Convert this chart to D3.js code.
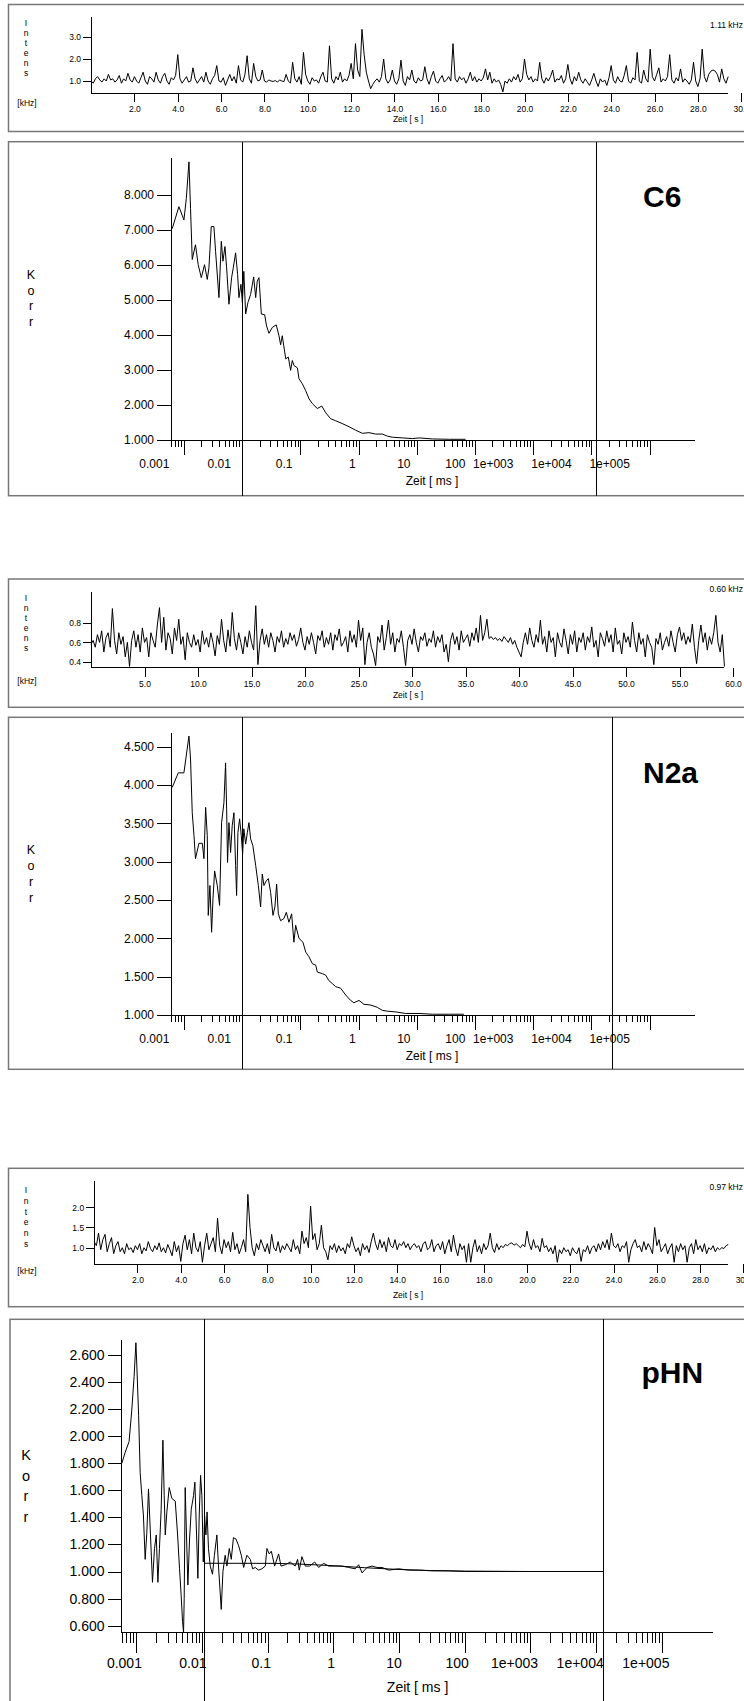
<!DOCTYPE html>
<html lang="de">
<head>
<meta charset="UTF-8">
<title>FCS Intensitaet und Korrelation</title>
<script src="https://d3js.org/d3.v7.min.js"></script>
<style>
body { margin: 0; background: #fff; }
svg text { font-family: Arial, "Liberation Sans", sans-serif; fill: #000; }
</style>
</head>
<body>
<div id="chart"></div>
<script>
// ---------- Intensity traces (kHz), equally sampled ----------
const intensC6Dt = 0.1;
const intensC6 = [
  1.0, 0.9, 1.1, 1.2, 1.05, 0.95, 1.1, 1.0, 1.3, 1.05,
  1.1, 0.95, 1.05, 1.25, 0.9, 1.1, 1.0, 1.35, 1.05, 0.95,
  1.2, 1.0, 0.9, 1.15, 1.4, 1.0, 0.85, 1.2, 1.1, 0.95,
  1.4, 1.05, 0.9, 1.2, 1.35, 1.0, 0.85, 1.15, 1.05, 1.25,
  2.2, 1.1, 0.9, 1.05, 1.2, 0.95, 1.0, 1.6, 1.1, 0.9,
  1.05, 1.2, 0.95, 1.4, 1.0, 0.85, 1.1, 1.25, 1.7, 1.0,
  0.95, 1.15, 0.8, 1.05, 1.3, 1.0, 1.2, 0.9, 1.7, 1.05,
  0.95, 1.3, 2.15, 1.1, 0.9, 1.8, 1.2, 1.0, 1.05, 1.5,
  1.0, 0.95, 1.05, 1.0, 0.98, 1.02, 0.95, 1.05, 1.0, 0.97,
  1.3, 1.0, 0.9, 1.85, 1.1, 0.95, 1.2, 0.85, 2.3, 1.3,
  1.0, 0.85, 1.15, 1.0, 1.05, 0.9, 1.2, 1.4, 1.0, 0.95,
  2.6, 1.1, 0.9, 1.2, 1.05, 1.4, 0.95, 1.1, 1.0, 1.25,
  1.8, 1.1, 2.7, 1.5, 1.2, 3.35, 2.2, 1.4, 1.0, 0.65,
  0.85, 1.0, 1.1, 0.95, 1.2, 2.0, 1.1, 0.9, 1.05, 1.5,
  1.0, 0.85, 1.1, 1.95, 1.0, 0.8, 1.2, 1.05, 1.5, 1.0,
  0.9, 1.15, 1.0, 1.05, 1.65, 1.1, 0.85, 1.2, 1.45, 1.0,
  0.9, 1.1, 1.25, 0.95, 1.05, 1.2, 1.0, 2.7, 1.1, 0.95,
  1.2, 1.05, 1.15, 0.9, 1.1, 1.4, 1.0, 1.2, 0.95, 1.1,
  1.0, 1.15, 1.55, 1.05, 1.4, 0.9, 1.1, 0.95, 1.05, 0.85,
  0.5, 1.0, 0.9, 1.1, 0.95, 1.2, 1.05, 1.3, 0.95, 1.1,
  2.0, 1.3, 1.05, 1.2, 0.95, 1.1, 1.0, 1.85, 1.1, 0.9,
  1.15, 1.0, 1.2, 1.5, 0.95, 1.1, 1.05, 1.25, 0.9, 1.1,
  1.75, 1.1, 0.85, 1.2, 1.0, 1.4, 1.05, 0.9, 1.1, 0.95,
  0.8, 1.05, 1.35, 1.0, 0.75, 1.1, 0.95, 1.05, 0.8, 1.15,
  1.7, 1.05, 0.9, 1.2, 1.0, 0.95, 1.25, 1.7, 1.0, 0.9,
  1.15, 1.05, 2.3, 1.0, 0.9, 1.5, 1.1, 0.95, 2.45, 1.2,
  1.0, 1.3, 1.6, 0.95, 1.1, 1.0, 1.2, 2.2, 1.05, 0.9,
  1.15, 1.0, 1.55, 0.95, 1.1, 1.0, 0.85, 1.05, 1.85, 1.0,
  0.75, 1.1, 2.45, 1.2, 0.95, 1.3, 1.45, 1.5, 1.45, 1.3,
  0.95, 1.55, 1.1, 0.9, 1.2
];

const intensN2aDt = 0.2;
const intensN2a = [
  0.58, 0.62, 0.55, 0.68, 0.6, 0.72, 0.5, 0.65, 0.7, 0.55,
  0.95, 0.62, 0.48, 0.7, 0.58, 0.66, 0.45, 0.6, 0.35, 0.62,
  0.72, 0.55, 0.68, 0.5, 0.75, 0.6, 0.65, 0.45, 0.7, 0.62,
  0.55, 0.78, 0.96, 0.6, 0.86, 0.52, 0.7, 0.64, 0.48, 0.75,
  0.62, 0.84, 0.58, 0.66, 0.42, 0.7, 0.6, 0.55, 0.68, 0.57,
  0.63, 0.5, 0.72, 0.58, 0.65, 0.55, 0.7, 0.6, 0.46, 0.67,
  0.58, 0.84, 0.62, 0.5, 0.73, 0.56, 0.91, 0.64, 0.52, 0.7,
  0.6, 0.48, 0.66, 0.55, 0.72, 0.6, 0.52, 0.98, 0.37, 0.62,
  0.74, 0.58, 0.68, 0.55, 0.7, 0.62, 0.5, 0.66, 0.6, 0.72,
  0.55, 0.64, 0.58, 0.7, 0.62, 0.68, 0.56, 0.63, 0.75, 0.6,
  0.52, 0.66, 0.58, 0.7, 0.6, 0.48, 0.67, 0.62, 0.72, 0.55,
  0.65, 0.58, 0.7, 0.52, 0.68, 0.62, 0.74, 0.56, 0.6, 0.66,
  0.5, 0.72, 0.6, 0.68, 0.55, 0.83, 0.62, 0.75, 0.37, 0.6,
  0.7, 0.55, 0.48, 0.36, 0.66, 0.6, 0.78, 0.52, 0.65, 0.83,
  0.58, 0.7, 0.5, 0.64, 0.6, 0.72, 0.55, 0.36, 0.62, 0.68,
  0.58, 0.74, 0.6, 0.5, 0.66, 0.62, 0.7, 0.56, 0.64, 0.6,
  0.72, 0.55, 0.66, 0.6, 0.68, 0.5, 0.58, 0.4, 0.62, 0.7,
  0.58, 0.66, 0.52, 0.72, 0.6, 0.64, 0.68, 0.56, 0.7, 0.62,
  0.75, 0.6, 0.88, 0.62, 0.7, 0.84, 0.64, 0.66, 0.63, 0.65,
  0.62, 0.64, 0.61, 0.66, 0.63, 0.6, 0.65, 0.58, 0.62, 0.55,
  0.5, 0.45, 0.6, 0.7, 0.58, 0.75, 0.62, 0.55, 0.68, 0.6,
  0.83, 0.58, 0.66, 0.5, 0.72, 0.6, 0.65, 0.45, 0.7, 0.6,
  0.55, 0.74, 0.62, 0.48, 0.68, 0.58, 0.72, 0.5, 0.65, 0.6,
  0.7, 0.52, 0.66, 0.6, 0.76, 0.55, 0.62, 0.45, 0.7, 0.64,
  0.56, 0.72, 0.6, 0.68, 0.5, 0.75, 0.58, 0.62, 0.48, 0.7,
  0.6, 0.66, 0.55, 0.81, 0.62, 0.5, 0.7, 0.58, 0.64, 0.45,
  0.68, 0.6, 0.55, 0.37, 0.64, 0.58, 0.7, 0.52, 0.6, 0.66,
  0.56, 0.72, 0.6, 0.5, 0.68, 0.76, 0.62, 0.7, 0.58, 0.66,
  0.6, 0.79, 0.55, 0.38, 0.62, 0.78, 0.6, 0.7, 0.52, 0.66,
  0.58, 0.7, 0.88, 0.6, 0.5, 0.68, 0.35
];

const intensPhnDt = 0.1;
const intensPhn = [
  1.15, 1.05, 1.36, 0.95, 1.2, 1.33, 0.9, 1.1, 1.25, 0.85,
  1.05, 1.15, 0.9, 1.0, 0.85, 1.1, 0.95, 1.0, 0.88, 1.05,
  0.95, 1.1, 0.85, 1.0, 0.92, 1.15, 0.98, 0.9, 1.05, 0.95,
  1.12, 0.9, 1.0, 0.87, 1.08, 0.95, 0.8, 1.15, 0.9, 1.05,
  0.66, 1.1, 1.31, 0.95, 1.2, 0.85, 1.36, 1.0, 0.9, 1.15,
  0.64, 1.05, 1.36, 0.95, 1.1, 1.25, 0.9, 1.73, 1.05, 0.85,
  1.2, 1.0, 1.15, 0.9, 1.38, 0.95, 1.1, 0.85, 1.0, 1.2,
  0.9, 2.32, 1.5, 1.0, 0.8, 1.1, 0.95, 1.2, 1.05, 0.9,
  1.1, 0.85, 1.33, 1.0, 0.92, 1.15, 0.88, 1.05, 0.95, 1.1,
  1.0, 0.9, 1.2, 0.95, 1.05, 0.85, 1.41, 1.1, 1.25, 1.0,
  2.03, 1.2, 1.35, 0.95, 1.1, 1.56, 1.0, 0.9, 0.7, 1.05,
  0.95, 1.1, 0.88, 1.05, 0.92, 1.0, 0.85, 1.1, 1.0, 1.27,
  1.05, 0.9, 1.0, 0.8, 1.1, 0.95, 1.05, 0.88, 1.15, 1.36,
  1.1, 0.95, 1.2, 1.0, 1.15, 0.9, 1.25, 1.05, 1.0, 1.2,
  0.95, 1.1, 1.05, 1.15, 1.0, 1.1, 0.95, 1.05, 1.1, 1.0,
  1.05, 0.9, 1.1, 1.15, 0.95, 1.0, 1.2, 0.9, 1.05, 1.1,
  0.95, 1.15, 0.85, 1.05, 1.2, 0.9, 1.31, 1.0, 0.8, 1.1,
  0.95, 1.05, 0.64, 1.1, 0.64, 1.0, 1.2, 0.9, 1.05, 0.85,
  1.1, 0.95, 1.05, 1.36, 1.0, 0.88, 1.1, 0.95, 1.05, 1.0,
  1.08, 1.05, 1.1, 1.12, 1.06, 1.1, 1.05, 1.0, 1.08, 1.02,
  1.41, 1.1, 0.95, 1.2, 1.0, 1.05, 0.9, 1.23, 1.0, 1.05,
  0.9, 1.0, 0.85, 1.05, 0.64, 0.95, 0.85, 1.0, 0.9, 0.95,
  0.8, 1.0, 0.9, 0.85, 1.0, 0.66, 0.95, 0.9, 1.05, 0.85,
  1.0, 1.05, 0.9, 1.1, 0.95, 1.15, 1.0, 1.2, 0.95, 1.36,
  1.05, 1.0, 1.1, 0.9, 1.05, 1.0, 1.15, 0.64, 0.95, 1.1,
  1.2, 1.0, 1.05, 0.9, 1.15, 0.95, 1.1, 1.0, 0.85, 1.5,
  1.05, 1.2, 0.9, 1.0, 1.1, 0.85, 1.0, 1.1, 0.64, 1.05,
  0.9, 1.1, 0.95, 1.05, 0.64, 1.0, 1.1, 0.85, 1.2, 0.95,
  1.05, 0.9, 1.1, 0.85, 1.0, 0.95, 1.05, 0.9, 1.0, 0.95,
  1.0, 0.98, 1.05, 1.08
];

// x ticks [s], y ticks [kHz], mean count rates
const intensTicks30 = [2, 4, 6, 8, 10, 12, 14, 16, 18, 20, 22, 24, 26, 28, 30];
const intensTicks60 = [5, 10, 15, 20, 25, 30, 35, 40, 45, 50, 55, 60];
const intensYTicksC6 = [1, 2, 3];
const intensYTicksN2a = [0.4, 0.6, 0.8];
const intensYTicksPhn = [1, 1.5, 2];
const meanRates = ["1.11 kHz", "0.60 kHz", "0.97 kHz"];

// ---------- Autocorrelation curves: [tau in ms, G] ----------
const corrC6 = [
  [0.00063, 7.04], [0.00082, 7.67], [0.0010, 7.29], [0.0011, 7.9], [0.00122, 8.95],
  [0.0013, 7.62], [0.00139, 6.16], [0.00158, 6.58], [0.00176, 6.01], [0.00199, 5.64],
  [0.00226, 6.01], [0.00252, 5.59], [0.00269, 5.92], [0.00295, 7.10], [0.00328, 7.10],
  [0.0035, 6.39], [0.0040, 5.07], [0.00439, 6.68], [0.00468, 6.11], [0.00507, 6.53],
  [0.00542, 5.92], [0.00594, 4.88], [0.0066, 5.64], [0.00705, 5.92], [0.00773, 6.35],
  [0.00837, 5.73], [0.00883, 5.07], [0.00955, 5.45], [0.0101, 4.93], [0.0107, 5.82],
  [0.0115, 4.60], [0.0126, 4.93], [0.0140, 5.16], [0.0158, 5.66], [0.0171, 5.07],
  [0.0182, 5.54], [0.0195, 5.64], [0.0214, 4.60], [0.0244, 4.58], [0.0263, 4.26],
  [0.0289, 4.05], [0.0331, 4.22], [0.0386, 4.29], [0.0430, 3.98], [0.0459, 3.72],
  [0.0490, 3.98], [0.0562, 3.32], [0.0622, 3.37], [0.0682, 2.99], [0.0728, 3.27],
  [0.0778, 3.13], [0.0891, 3.06], [0.0949, 2.75], [0.108, 2.61], [0.123, 2.42],
  [0.141, 2.18], [0.161, 2.04], [0.196, 1.90], [0.234, 1.97], [0.273, 1.78],
  [0.331, 1.61], [0.405, 1.55], [0.525, 1.47], [0.687, 1.38], [0.891, 1.28],
  [1.17, 1.19], [1.51, 1.21], [1.97, 1.17], [2.57, 1.17], [3.13, 1.11],
  [3.80, 1.08], [5.68, 1.06], [8.43, 1.04], [11.0, 1.06], [18.6, 1.03],
  [36.3, 1.02], [69.2, 1.02]
];

const corrN2a = [
  [0.00063, 3.97], [0.0008, 4.16], [0.0010, 4.16], [0.00122, 4.64], [0.0013, 4.34],
  [0.00139, 3.64], [0.00149, 3.34], [0.00158, 3.04], [0.00181, 3.24], [0.00207, 3.24],
  [0.00221, 3.04], [0.00236, 3.71], [0.00252, 3.34], [0.00262, 2.30], [0.0028, 2.69],
  [0.00299, 2.08], [0.00316, 2.52], [0.00337, 2.88], [0.00374, 2.69], [0.0041, 2.43],
  [0.00444, 3.51], [0.00487, 3.77], [0.0052, 4.29], [0.00542, 3.69], [0.00562, 2.99],
  [0.00594, 3.51], [0.00634, 3.12], [0.00676, 3.47], [0.00724, 3.64], [0.00773, 2.95],
  [0.00804, 2.56], [0.00847, 3.38], [0.00906, 3.56], [0.00968, 3.34], [0.0102, 3.10],
  [0.0107, 3.43], [0.0115, 3.23], [0.0123, 3.38], [0.0131, 3.51], [0.0140, 3.30],
  [0.0153, 3.21], [0.0171, 2.95], [0.0190, 2.69], [0.0208, 2.41], [0.0222, 2.84],
  [0.0237, 2.69], [0.0260, 2.75], [0.0282, 2.78], [0.0309, 2.60], [0.0339, 2.30],
  [0.0366, 2.41], [0.0392, 2.71], [0.0419, 2.32], [0.0459, 2.23], [0.0524, 2.26],
  [0.0575, 2.34], [0.0638, 2.21], [0.0710, 2.32], [0.0776, 1.95], [0.0832, 2.17],
  [0.0949, 2.00], [0.111, 1.95], [0.124, 1.82], [0.141, 1.76], [0.161, 1.67],
  [0.184, 1.65], [0.196, 1.56], [0.239, 1.54], [0.273, 1.52], [0.309, 1.45],
  [0.355, 1.41], [0.405, 1.37], [0.493, 1.35], [0.603, 1.26], [0.733, 1.19],
  [0.832, 1.16], [1.02, 1.19], [1.24, 1.14], [1.62, 1.13], [2.11, 1.10],
  [2.57, 1.06], [3.13, 1.05], [4.37, 1.04], [6.46, 1.02], [11.0, 1.02],
  [18.6, 1.01], [36.3, 1.01], [64.6, 1.01]
];

const corrPhn = [
  [0.000605, 1.80], [0.00068, 1.88], [0.00078, 1.96], [0.00086, 2.20], [0.00093, 2.44],
  [0.00099, 2.69], [0.00102, 2.54], [0.00109, 2.15], [0.00115, 1.73], [0.00122, 1.56],
  [0.00129, 1.41], [0.00137, 1.09], [0.00145, 1.28], [0.00154, 1.61], [0.00165, 1.27],
  [0.00177, 0.92], [0.0019, 1.17], [0.00202, 1.27], [0.00214, 0.92], [0.00226, 1.17],
  [0.0024, 1.46], [0.00255, 1.97], [0.00267, 1.56], [0.00277, 1.27], [0.00293, 1.44],
  [0.00318, 1.62], [0.00349, 1.54], [0.00393, 1.52], [0.00427, 1.27], [0.00457, 1.02],
  [0.00484, 0.82], [0.00508, 0.63], [0.00526, 0.55], [0.00538, 0.80], [0.00557, 1.62],
  [0.00583, 1.27], [0.00612, 0.90], [0.00649, 1.24], [0.00689, 1.46], [0.00746, 1.56],
  [0.00782, 1.66], [0.0083, 1.27], [0.00869, 0.95], [0.0091, 1.41], [0.00955, 1.71],
  [0.0100, 1.56], [0.0105, 1.07], [0.0110, 1.41], [0.0115, 1.27], [0.0120, 1.44],
  [0.0126, 1.17], [0.0134, 1.04], [0.0145, 0.98], [0.0155, 1.12], [0.0169, 1.27],
  [0.0179, 1.04], [0.0197, 0.72], [0.0209, 1.00], [0.0226, 1.12], [0.0240, 1.04],
  [0.0261, 1.17], [0.028, 1.09], [0.0302, 1.25], [0.033, 1.24], [0.0363, 1.19],
  [0.0398, 1.12], [0.0432, 1.03], [0.0484, 1.12], [0.0545, 1.09], [0.0592, 1.02],
  [0.0649, 1.03], [0.0724, 1.01], [0.082, 1.02], [0.0923, 1.04], [0.0977, 1.17],
  [0.106, 1.13], [0.114, 1.15], [0.128, 1.04], [0.147, 1.13], [0.160, 1.04],
  [0.186, 1.05], [0.221, 1.07], [0.263, 1.04], [0.286, 1.09], [0.303, 1.01],
  [0.333, 1.11], [0.375, 1.04], [0.437, 1.04], [0.52, 1.07], [0.598, 1.03],
  [0.713, 1.06], [0.851, 1.04], [1.07, 1.04], [1.36, 1.04], [1.71, 1.03],
  [2.16, 1.02], [2.43, 1.05], [2.74, 0.99], [3.26, 1.03], [3.89, 1.04],
  [4.62, 1.03], [5.51, 1.03], [6.97, 1.01], [9.89, 1.02], [14.0, 1.01],
  [20.0, 1.01], [31.6, 1.005], [57.0, 1.005], [102, 1.0], [184, 1.0],
  [330, 1.0], [600, 1.0], [1300, 1.0]
];

// fitted curve between the two cursors (only visible for pHN)
const fitPhn = [
  [0.0108, 1.061], [0.13, 1.060], [0.3, 1.055], [1.0, 1.043], [3.0, 1.028],
  [10, 1.015], [30, 1.007], [100, 1.003], [1000, 1.0], [13000, 1.0]
];

const corrYTicksC6 = [1, 2, 3, 4, 5, 6, 7, 8];
const corrYTicksN2a = [1, 1.5, 2, 2.5, 3, 3.5, 4, 4.5];
const corrYTicksPhn = [0.6, 0.8, 1.0, 1.2, 1.4, 1.6, 1.8, 2.0, 2.2, 2.4, 2.6];
const tauMajor = [0.001, 0.01, 0.1, 1, 10, 100, 1000, 10000, 100000];
const tauLabels = ["0.001", "0.01", "0.1", "1", "10", "100", "1e+003", "1e+004", "1e+005"];
const cursorsC6 = [0.01, 12500];
const cursorsN2a = [0.01, 23000];
const cursorsPhn = [0.0108, 13000];
const sampleNames = ["C6", "N2a", "pHN"];

// ---------- drawing ----------
const svg = d3.select("#chart").append("svg")
  .attr("width", 744)
  .attr("height", 1701);

const line = d3.line();

function frame(x, y, h) {
  svg.append("rect")
    .attr("x", x).attr("y", y)
    .attr("width", 800).attr("height", h)
    .attr("fill", "none")
    .attr("stroke", "#777")
    .attr("stroke-width", 1.5);
}

function styleAxis(g, size) {
  g.attr("font-family", "Arial, 'Liberation Sans', sans-serif")
    .attr("font-size", size)
    .attr("shape-rendering", "crispEdges");
  g.select(".domain").remove();
}

function intensPanel(p, values, dt, xTicks, yTicks, mean) {
  frame(p.left, p.top, p.h);
  const x = d3.scaleLinear().domain(p.xDomain).range(p.xRange);
  const y = d3.scaleLinear().domain(p.yDomain).range([p.axisY, p.topY]);
  const pts = values.map((v, i) => [i * dt, v]);
  const tEnd = pts[pts.length - 1][0];

  // axis lines
  svg.append("line")
    .attr("x1", x(0)).attr("x2", x(0))
    .attr("y1", p.topY).attr("y2", p.axisY)
    .attr("stroke", "#000").attr("shape-rendering", "crispEdges");
  svg.append("line")
    .attr("x1", x(0)).attr("x2", x(tEnd))
    .attr("y1", p.axisY).attr("y2", p.axisY)
    .attr("stroke", "#000").attr("shape-rendering", "crispEdges");

  const gx = svg.append("g")
    .attr("transform", `translate(0,${p.axisY})`)
    .call(d3.axisBottom(x).tickValues(xTicks).tickSize(9).tickPadding(p.xPad)
      .tickFormat(d3.format(".1f")));
  styleAxis(gx, 8.5);

  const gy = svg.append("g")
    .attr("transform", `translate(${x(0)},0)`)
    .call(d3.axisLeft(y).tickValues(yTicks).tickSize(8).tickPadding(2)
      .tickFormat(d3.format(".1f")));
  styleAxis(gy, 8.5);

  svg.append("path")
    .datum(pts)
    .attr("fill", "none")
    .attr("stroke", "#000")
    .attr("stroke-width", 1)
    .attr("d", line.x(d => x(d[0])).y(d => y(d[1])));

  // labels
  "Intens".split("").forEach((c, i) => {
    svg.append("text")
      .attr("x", 26).attr("y", p.letterY + i * p.letterStep)
      .attr("text-anchor", "middle").attr("font-size", 8.5)
      .text(c);
  });
  svg.append("text")
    .attr("x", 27).attr("y", p.kHzY)
    .attr("text-anchor", "middle").attr("font-size", 8.5)
    .text("[kHz]");
  svg.append("text")
    .attr("x", 743).attr("y", p.meanY)
    .attr("text-anchor", "end").attr("font-size", 8.5)
    .text(mean);
  svg.append("text")
    .attr("x", 408).attr("y", p.axisY + p.zeitDy)
    .attr("text-anchor", "middle").attr("font-size", 8.5)
    .text("Zeit [ s ]");
}

function korrPanel(p, data, yTicks, cursors, name, fit) {
  frame(p.left, p.top, p.h);
  const x = d3.scaleLog().domain([6e-4, 6e5]).range(p.xRange);
  const y = d3.scaleLinear().domain(p.yDomain).range([p.axisY, p.topY]);

  // cursors
  cursors.forEach(c => {
    svg.append("line")
      .attr("x1", x(c)).attr("x2", x(c))
      .attr("y1", p.top).attr("y2", p.top + p.h)
      .attr("stroke", "#000").attr("shape-rendering", "crispEdges");
  });

  svg.append("line")
    .attr("x1", p.xRange[0]).attr("x2", p.xRange[0])
    .attr("y1", p.topY).attr("y2", p.axisY)
    .attr("stroke", "#000").attr("shape-rendering", "crispEdges");
  svg.append("line")
    .attr("x1", p.xRange[0]).attr("x2", p.xRange[1])
    .attr("y1", p.axisY).attr("y2", p.axisY)
    .attr("stroke", "#000").attr("shape-rendering", "crispEdges");

  // minor ticks 2..9 of each decade up to 1e5
  const minor = [];
  for (let e = -4; e <= 4; e++) {
    for (let k = 2; k <= 9; k++) {
      const v = k * Math.pow(10, e);
      if (v > 5.9e-4) minor.push(v);
    }
  }
  const gm = svg.append("g")
    .attr("transform", `translate(0,${p.axisY})`)
    .call(d3.axisBottom(x).tickValues(minor).tickSize(p.minorLen).tickFormat(""));
  styleAxis(gm, p.font);

  const gx = svg.append("g")
    .attr("transform", `translate(0,${p.axisY})`)
    .call(d3.axisBottom(x).tickValues(tauMajor).tickSize(p.majorLen)
      .tickPadding(p.xPad).tickFormat((d, i) => tauLabels[i]));
  styleAxis(gx, p.font);
  gx.selectAll("text").each(function () {
    const w = this.getComputedTextLength();
    d3.select(this).attr("x", -p.labelShift * w);
  });

  const gy = svg.append("g")
    .attr("transform", `translate(${p.xRange[0]},0)`)
    .call(d3.axisLeft(y).tickValues(yTicks).tickSize(p.yTickLen).tickPadding(3)
      .tickFormat(d3.format(".3f")));
  styleAxis(gy, p.font);

  if (fit) {
    svg.append("path")
      .datum(fit)
      .attr("fill", "none")
      .attr("stroke", "#000")
      .attr("d", line.x(d => x(d[0])).y(d => y(d[1])));
  }

  svg.append("path")
    .datum(data)
    .attr("fill", "none")
    .attr("stroke", "#000")
    .attr("stroke-width", 1)
    .attr("d", line.x(d => x(d[0])).y(d => y(d[1])));

  // K o r r
  "Korr".split("").forEach((c, i) => {
    svg.append("text")
      .attr("x", p.korrX).attr("y", p.korrY[i])
      .attr("text-anchor", "middle").attr("font-size", p.font + 0.5)
      .text(c);
  });
  svg.append("text")
    .attr("x", p.zeitX).attr("y", p.axisY + p.zeitDy)
    .attr("text-anchor", "middle").attr("font-size", p.font)
    .text("Zeit [ ms ]");
  svg.append("text")
    .attr("x", p.nameX).attr("y", p.nameY)
    .attr("font-size", 30).attr("font-weight", "bold")
    .text(name);
}

intensPanel({
  left: 8.5, top: 4.5, h: 127,
  xDomain: [0, 30], xRange: [91.1, 741.2],
  yDomain: [0.455, 3.91], axisY: 93, topY: 17, xPad: 4,
  letterY: 26, letterStep: 10, kHzY: 105.5, meanY: 28, zeitDy: 29
}, intensC6, intensC6Dt, intensTicks30, intensYTicksC6, meanRates[0]);

korrPanel({
  left: 8.5, top: 141.7, h: 354,
  xRange: [171, 694.8], yDomain: [1, 9.06], axisY: 440, topY: 158,
  font: 12, majorLen: 15, minorLen: 7, yTickLen: 14, xPad: 4, labelShift: 1.0,
  zeitX: 432, zeitDy: 44.5, korrX: 31, korrY: [279, 295, 310, 326],
  nameX: 643, nameY: 207
}, corrC6, corrYTicksC6, cursorsC6, sampleNames[0]);

intensPanel({
  left: 8.5, top: 579, h: 128.3,
  xDomain: [0, 60], xRange: [91, 733],
  yDomain: [0.34, 1.125], axisY: 667.5, topY: 591.7, xPad: 4,
  letterY: 601, letterStep: 10, kHzY: 684, meanY: 592, zeitDy: 30
}, intensN2a, intensN2aDt, intensTicks60, intensYTicksN2a, meanRates[1]);

korrPanel({
  left: 8.5, top: 717.3, h: 352,
  xRange: [171, 694.8], yDomain: [1, 4.68], axisY: 1015, topY: 733,
  font: 12, majorLen: 15, minorLen: 7, yTickLen: 14, xPad: 4, labelShift: 1.0,
  zeitX: 432, zeitDy: 44.5, korrX: 31, korrY: [854, 870, 886, 902],
  nameX: 643, nameY: 783
}, corrN2a, corrYTicksN2a, cursorsN2a, sampleNames[1]);

intensPanel({
  left: 8.5, top: 1168.3, h: 138.4,
  xDomain: [0, 30], xRange: [94.2, 743.4],
  yDomain: [0.589, 2.663], axisY: 1264.3, topY: 1180.5, xPad: 4,
  letterY: 1193, letterStep: 10.8, kHzY: 1274, meanY: 1190, zeitDy: 34
}, intensPhn, intensPhnDt, intensTicks30, intensYTicksPhn, meanRates[2]);

korrPanel({
  left: 10, top: 1319.3, h: 500,
  xRange: [121.6, 713], yDomain: [0.548, 2.71], axisY: 1632.7, topY: 1340,
  font: 14, majorLen: 20, minorLen: 10, yTickLen: 14, xPad: 5, labelShift: 0.35,
  zeitX: 417.6, zeitDy: 59, korrX: 26, korrY: [1460, 1481, 1501, 1522],
  nameX: 641.5, nameY: 1383
}, corrPhn, corrYTicksPhn, cursorsPhn, sampleNames[2], fitPhn);
</script>
</body>
</html>
